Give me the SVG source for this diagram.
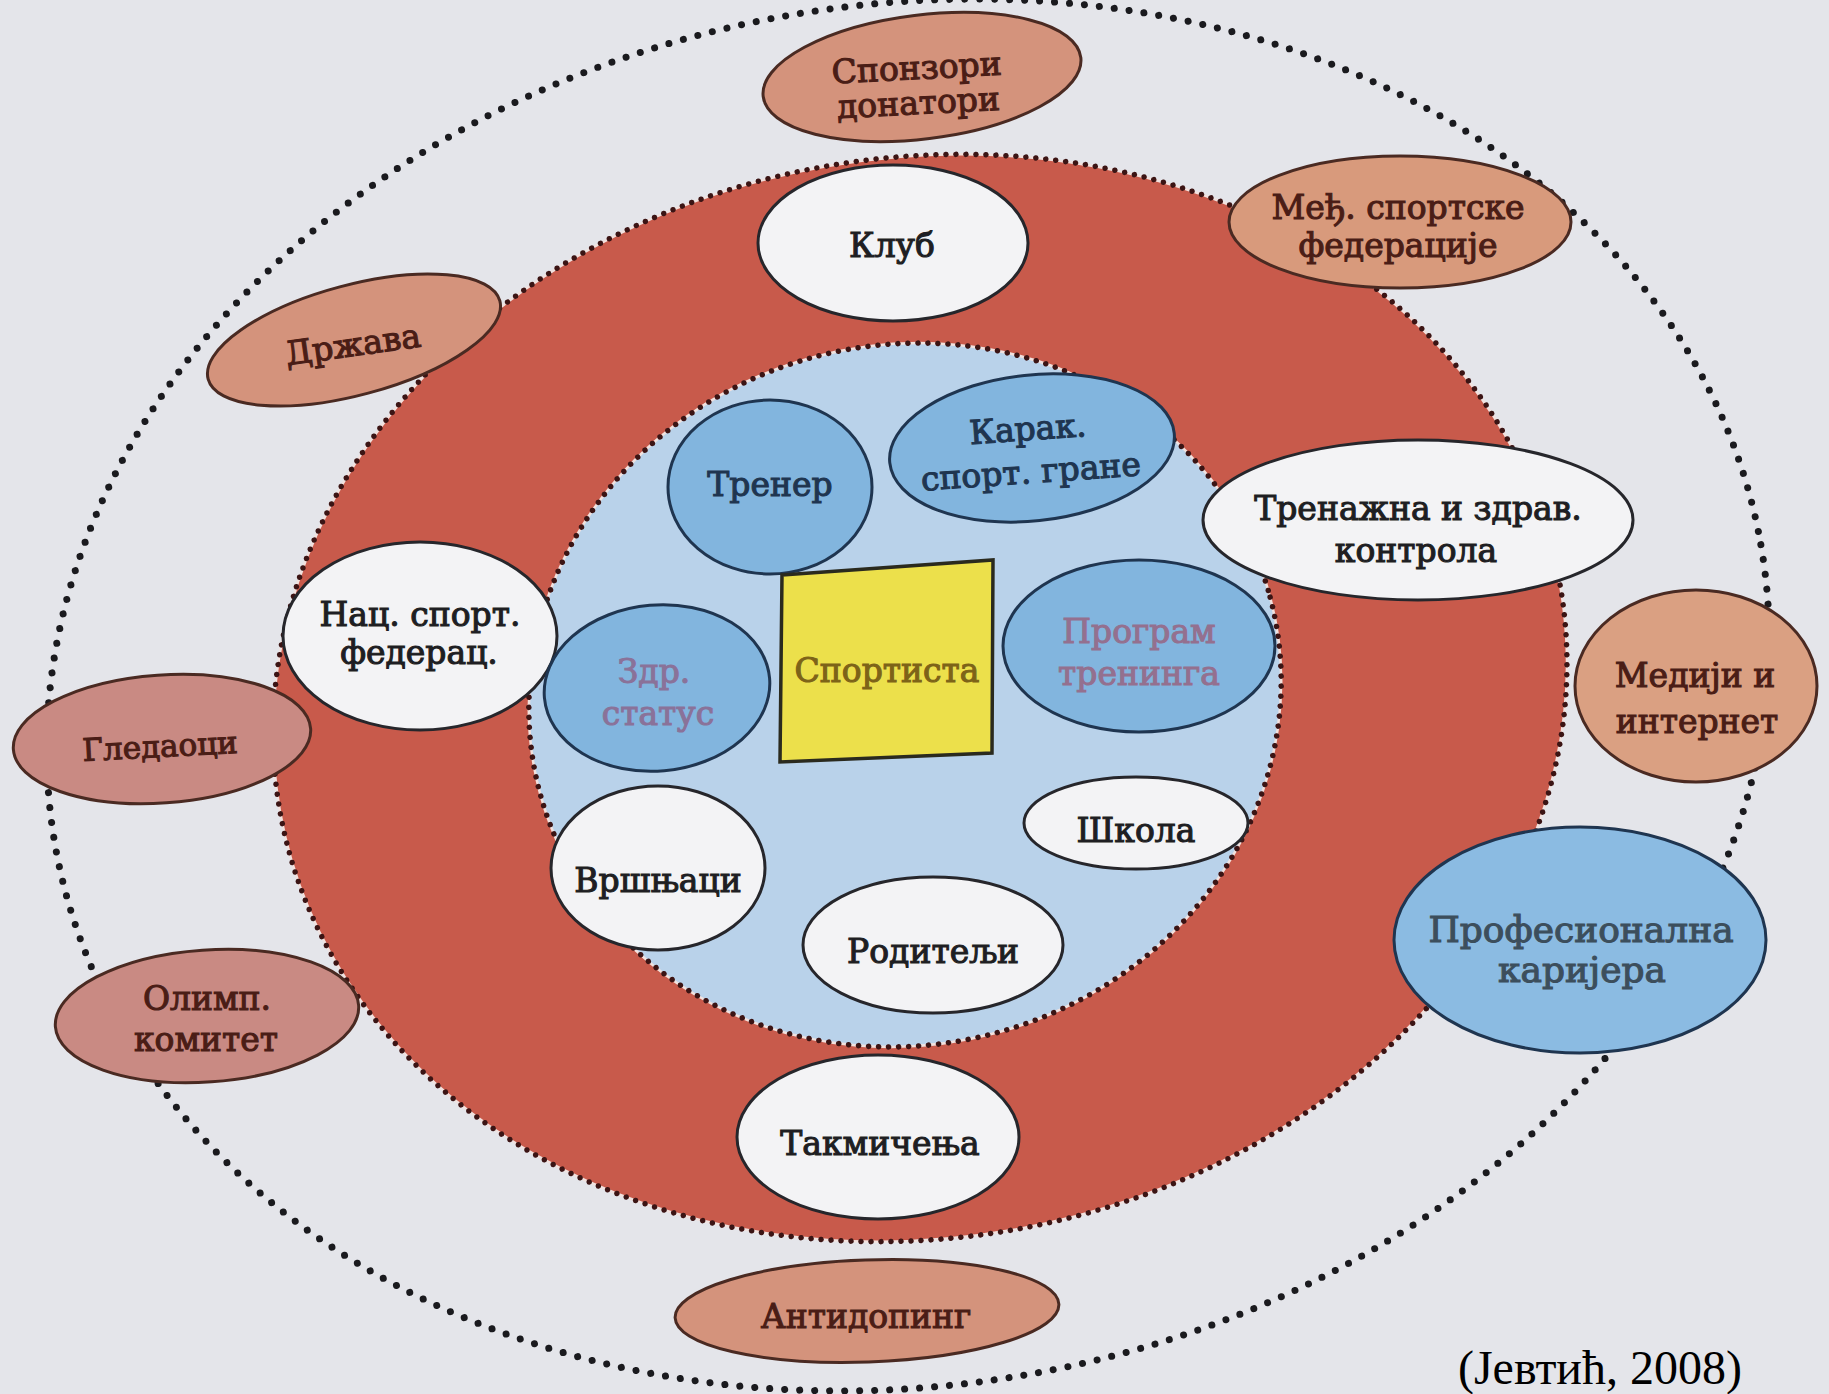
<svg xmlns="http://www.w3.org/2000/svg" width="1829" height="1394" viewBox="0 0 1829 1394">
<style>
.lbl{font-family:"DejaVu Serif","Liberation Serif",serif;font-size:33px;text-anchor:middle;stroke-width:1.1}
.dk{fill:#1e1e22;stroke:#1e1e22}
.br{fill:#4a1d16;stroke:#4a1d16}
.nv{fill:#1f3550;stroke:#1f3550}
.pu{fill:#8a7299;stroke:#8a7299}
.ol{fill:#7d6318;stroke:#7d6318}
.sl{fill:#3c4e5c;stroke:#3c4e5c}
.wn{fill:#f3f3f5;stroke:#26262b;stroke-width:3}
.bn{fill:#82b5de;stroke:#1f3550;stroke-width:3}
.sn{fill:#d4937c;stroke:#4a2a22;stroke-width:3}
.pk{fill:#c98a83;stroke:#4a2a22;stroke-width:3}
.edge{fill:none;stroke:#3b1414;stroke-width:5.5;stroke-linecap:round;stroke-dasharray:0 10}
.gap{fill:none;stroke:#f2e2df;stroke-width:2.5}
</style>
<rect x="0" y="0" width="1829" height="1394" fill="#e4e5ea"/>
<g id="rings">
<ellipse cx="908" cy="695" rx="866" ry="690" transform="rotate(-10 908 695)" fill="none" stroke="#1a1a1e" stroke-width="7" stroke-linecap="round" stroke-dasharray="0 15"/>
<ellipse cx="920" cy="698" rx="650" ry="540" transform="rotate(-10 920 698)" fill="#c85a4b"/>
<ellipse class="gap" cx="920" cy="698" rx="650" ry="540" transform="rotate(-10 920 698)"/>
<ellipse class="edge" cx="920" cy="698" rx="650" ry="540" transform="rotate(-10 920 698)"/>
<ellipse cx="905" cy="695" rx="378" ry="350" transform="rotate(-15 905 695)" fill="#b9d2ea"/>
<ellipse class="gap" cx="905" cy="695" rx="378" ry="350" transform="rotate(-15 905 695)"/>
<ellipse class="edge" cx="905" cy="695" rx="378" ry="350" transform="rotate(-15 905 695)"/>
</g>
<g id="connectors"/>
<g id="sponzori">
<ellipse class="sn" cx="922" cy="77" rx="160" ry="62" transform="rotate(-7 922 77)"/>
<g transform="rotate(-3 920 95)"><text class="lbl br" x="918" y="79">Спонзори</text><text class="lbl br" x="918" y="114">донатори</text></g>
</g>
<g id="klub">
<ellipse class="wn" cx="893" cy="243" rx="135" ry="78"/>
<text class="lbl dk" x="892" y="257">Клуб</text>
</g>
<g id="medj">
<ellipse class="sn" cx="1400" cy="222" rx="171" ry="66" style="fill:#d89a7c"/>
<text class="lbl br" x="1398" y="219">Међ. спортске</text>
<text class="lbl br" x="1398" y="257">федерације</text>
</g>
<g id="drzava">
<ellipse class="sn" cx="354" cy="340" rx="151" ry="55" transform="rotate(-15 354 340)"/>
<text class="lbl br" x="353" y="356" transform="rotate(-8 353 345)">Држава</text>
</g>
<g id="trener">
<ellipse class="bn" cx="770" cy="487" rx="102" ry="87"/>
<text class="lbl nv" x="770" y="496">Тренер</text>
</g>
<g id="karak">
<ellipse class="bn" cx="1032" cy="448" rx="143" ry="73" transform="rotate(-6 1032 448)"/>
<g transform="rotate(-4 1030 460)"><text class="lbl nv" x="1030" y="440">Карак.</text><text class="lbl nv" x="1030" y="483">спорт. гране</text></g>
</g>
<g id="trenazna">
<ellipse class="wn" cx="1418" cy="520" rx="215" ry="80"/>
<text class="lbl dk" x="1418" y="520">Тренажна и здрав.</text>
<text class="lbl dk" x="1416" y="562">контрола</text>
</g>
<g id="nacfed">
<ellipse class="wn" cx="420" cy="636" rx="137" ry="94"/>
<text class="lbl dk" x="420" y="626">Нац. спорт.</text>
<text class="lbl dk" x="419" y="664">федерац.</text>
</g>
<g id="zdrstatus">
<ellipse class="bn" cx="657" cy="688" rx="113" ry="83" transform="rotate(-5 657 688)"/>
<text class="lbl pu" x="654" y="683">Здр.</text>
<text class="lbl pu" x="658" y="725">статус</text>
</g>
<g id="sportista">
<polygon points="782,575 993,560 992,753 780,762" fill="#ece04b" stroke="#2a2a1e" stroke-width="3.5"/>
<text class="lbl ol" x="887" y="682">Спортиста</text>
</g>
<g id="program">
<ellipse class="bn" cx="1139" cy="646" rx="136" ry="86"/>
<text class="lbl pu" x="1139" y="643" style="fill:#94708f;stroke:#94708f">Програм</text>
<text class="lbl pu" x="1139" y="685" style="fill:#94708f;stroke:#94708f">тренинга</text>
</g>
<g id="mediji">
<ellipse class="sn" cx="1696" cy="686" rx="121" ry="96" style="fill:#daa082"/>
<text class="lbl br" x="1695" y="687">Медији и</text>
<text class="lbl br" x="1697" y="733">интернет</text>
</g>
<g id="gledaoci">
<ellipse class="pk" cx="162" cy="739" rx="149" ry="64" transform="rotate(-4 162 739)"/>
<text class="lbl br" x="160" y="757" style="font-size:31px" transform="rotate(-3 160 745)">Гледаоци</text>
</g>
<g id="skola">
<ellipse class="wn" cx="1136" cy="823" rx="112" ry="46"/>
<text class="lbl dk" x="1136" y="842">Школа</text>
</g>
<g id="vrsnjaci">
<ellipse class="wn" cx="658" cy="868" rx="107" ry="82"/>
<text class="lbl dk" x="658" y="892">Вршњаци</text>
</g>
<g id="karijera">
<ellipse class="bn" cx="1580" cy="940" rx="186" ry="113" style="fill:#8bbbe2"/>
<text class="lbl sl" x="1581" y="942" style="font-size:36px">Професионална</text>
<text class="lbl sl" x="1582" y="982" style="font-size:36px">каријера</text>
</g>
<g id="roditelji">
<ellipse class="wn" cx="933" cy="945" rx="130" ry="68"/>
<text class="lbl dk" x="933" y="963">Родитељи</text>
</g>
<g id="olimp">
<ellipse class="pk" cx="207" cy="1016" rx="152" ry="66" transform="rotate(-4 207 1016)"/>
<text class="lbl br" x="207" y="1010">Олимп.</text>
<text class="lbl br" x="206" y="1051">комитет</text>
</g>
<g id="takmicenja">
<ellipse class="wn" cx="878" cy="1137" rx="141" ry="82"/>
<text class="lbl dk" x="880" y="1155">Такмичења</text>
</g>
<g id="antidoping">
<ellipse class="sn" cx="867" cy="1311" rx="192" ry="51" transform="rotate(-2 867 1311)"/>
<text class="lbl br" x="866" y="1328">Антидопинг</text>
</g>
<text x="1600" y="1384" font-family="Liberation Serif, Times New Roman, serif" font-size="48" text-anchor="middle" fill="#000">(Јевтић, 2008)</text>
</svg>
